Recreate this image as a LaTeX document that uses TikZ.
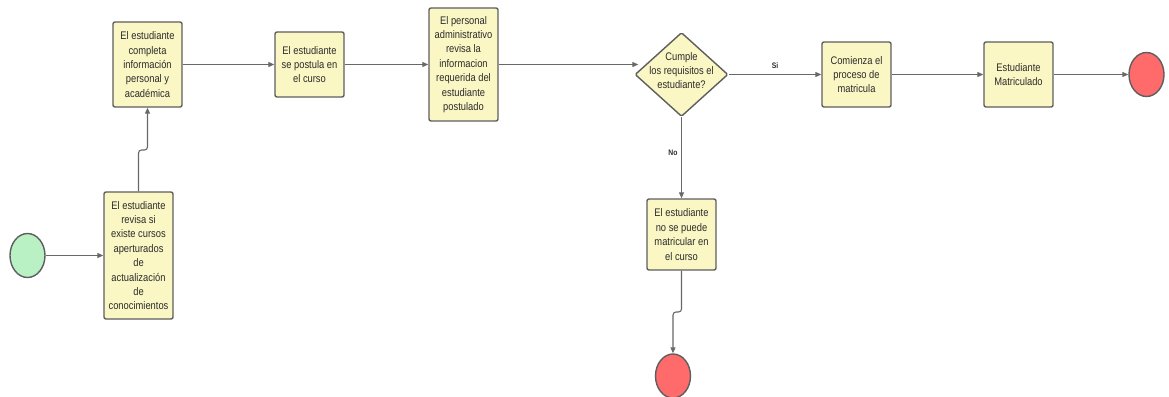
\documentclass[tikz,border=0pt]{standalone}
\usepackage{fontspec}
\setmainfont{Liberation Sans}[FakeStretch=0.85]
\usetikzlibrary{shapes.geometric,arrows.meta,calc}
\definecolor{boxfill}{HTML}{FAF7C4}
\definecolor{boxline}{HTML}{5E5E5E}
\definecolor{lncol}{HTML}{686868}
\definecolor{txt}{HTML}{2B2B2B}
\definecolor{startfill}{HTML}{B9F0C4}
\definecolor{endfill}{HTML}{FF6B6B}
\begin{document}
\begin{tikzpicture}[x=1pt,y=-1pt,
  proc/.style={draw=boxline, fill=boxfill, line width=1.4pt, rounded corners=2pt,
    minimum width=69pt, inner sep=0pt, align=center,
    font=\fontsize{11}{14.4}\selectfont, text=txt},
  decis/.style={shape=diamond, draw=boxline, fill=boxfill, line width=1.4pt,
    rounded corners=1.5pt, minimum width=93pt, minimum height=84pt, inner sep=0pt},
  dtext/.style={align=center, font=\fontsize{11}{14.4}\selectfont, text=txt, inner sep=0pt},
  startev/.style={shape=ellipse, draw=boxline, fill=startfill, line width=1.4pt,
    minimum width=35pt, minimum height=44pt, inner sep=0pt},
  endev/.style={shape=ellipse, draw=boxline, fill=endfill, line width=1.4pt,
    minimum width=35pt, minimum height=44pt, inner sep=0pt},
  arr/.style={draw=lncol, line width=1.1pt, -{Triangle[length=6pt,width=5pt]}},
  lbl/.style={font=\fontsize{8}{9}\selectfont\bfseries, text=txt, inner sep=0pt}
]
\fill[white] (0,0) rectangle (1169,396);
\useasboundingbox (0,0) rectangle (1169,396);

\node[startev] (start) at (27.5,255.5) {};
\node[proc, minimum height=127pt] (b1) at (138.5,255.5)
  {El estudiante\\revisa si\\existe cursos\\aperturados\\de\\actualización\\de\\conocimientos};
\node[proc, minimum height=85pt] (b2) at (147.5,64.5)
  {El estudiante\\completa\\información\\personal y\\académica};
\node[proc, minimum height=65pt] (b3) at (309.5,64.5)
  {El estudiante\\se postula en\\el curso};
\node[proc, minimum height=113pt] (b4) at (463.5,64.5)
  {El personal\\administrativo\\revisa la\\informacion\\requerida del\\estudiante\\postulado};
\node[decis] (d) at (681.5,74.5) {};
\node[dtext] (dt) at (681.5,70.5) {Cumple\\los requisitos el\\estudiante?};
\node[proc, minimum height=65pt] (b5) at (856.5,74.5)
  {Comienza el\\proceso de\\matricula};
\node[proc, minimum height=65pt] (b6) at (1018.5,74.5)
  {Estudiante\\Matriculado};
\node[endev] (endR) at (1146.5,74.5) {};
\node[proc, minimum height=71pt] (b7) at (681.5,234.5)
  {El estudiante\\no se puede\\matricular en\\el curso};
\node[endev] (endB) at (673,376) {};

\node[lbl] (si) at (775,66) {Si};
\node[lbl] (no) at (673,153) {No};

\coordinate (j1) at (143,150);
\coordinate (j2) at (677,312);

\draw[arr] (start.east) -- (b1.west);
\draw[arr, rounded corners=3pt] (b1.north) -- (b1.north |- j1) -- (b2.south |- j1) -- (b2.south);
\draw[arr] (b2.east) -- (b3.west);
\draw[arr] (b3.east) -- (b4.west);
\draw[arr] (b4.east) -- ($(b4.east -| d.west)+(4,0)$);
\draw[arr] (d.east) -- (b5.west);
\draw[arr] (b5.east) -- (b6.west);
\draw[arr] (b6.east) -- (endR.west);
\draw[arr] (d.south) -- (b7.north);
\draw[arr, rounded corners=3pt] (b7.south) -- (b7.south |- j2) -- (endB.north |- j2) -- (endB.north);
\end{tikzpicture}
\end{document}
